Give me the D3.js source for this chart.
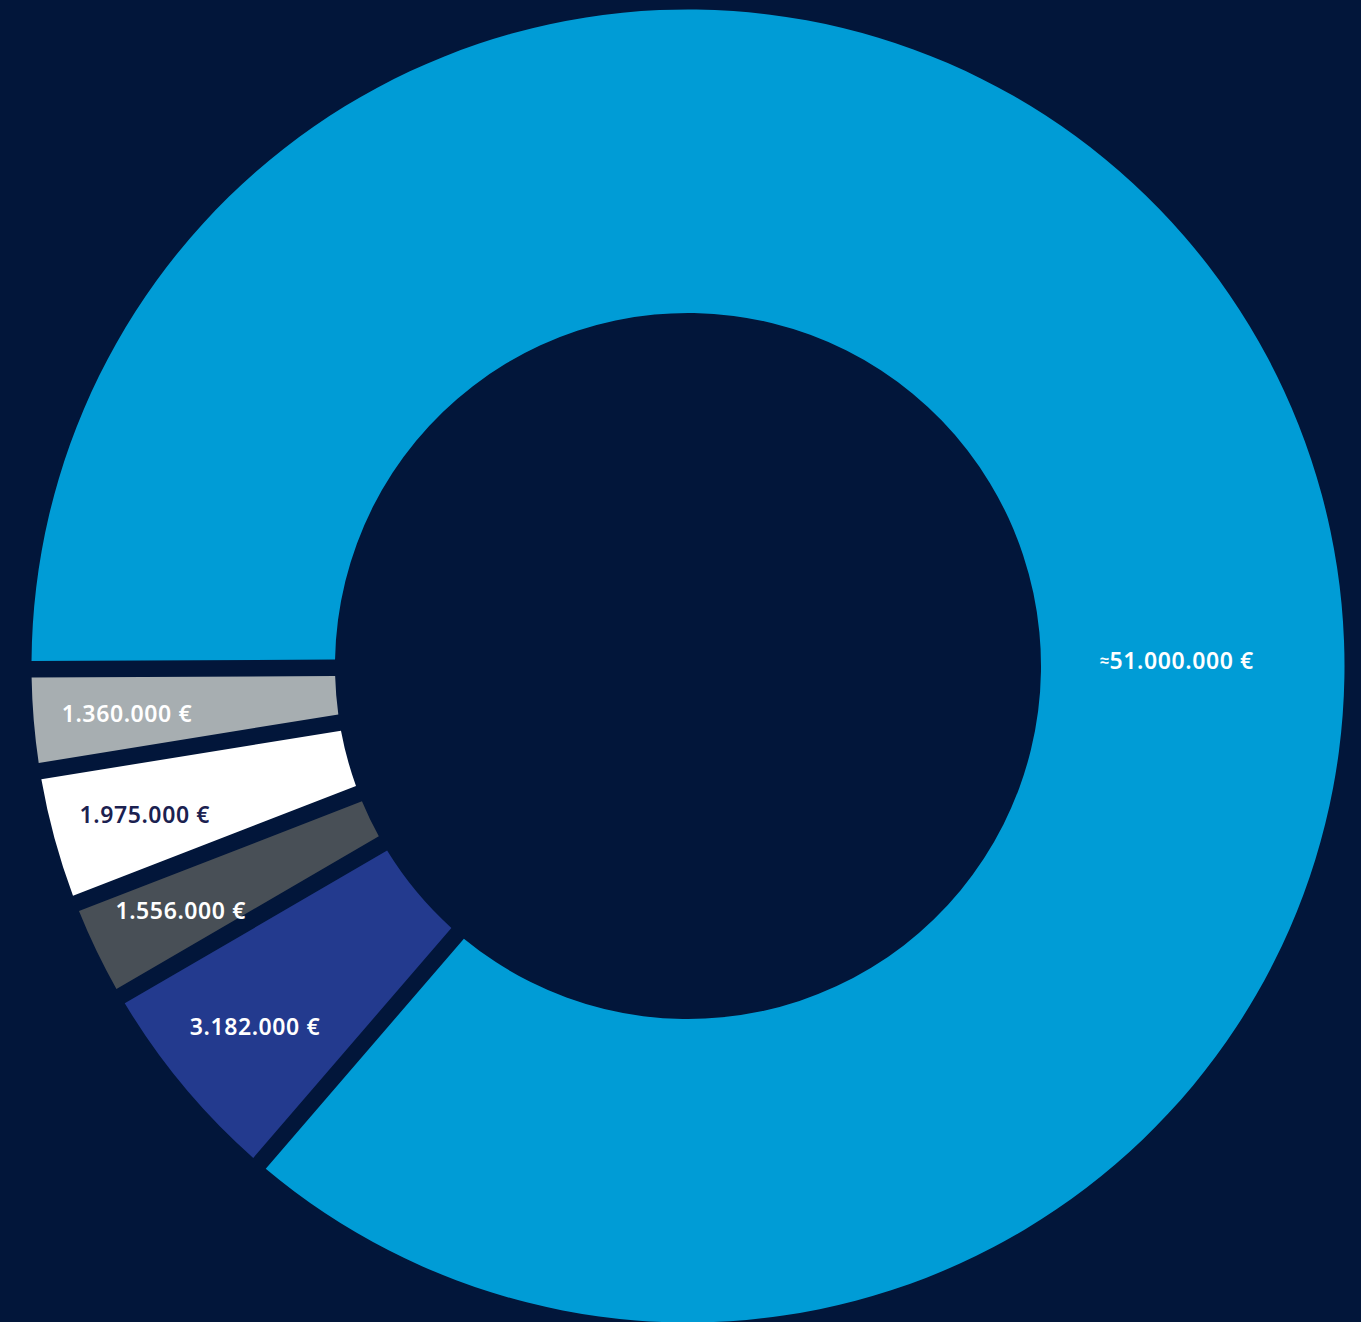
<!DOCTYPE html>
<html lang="en">
<head>
    <meta charset="UTF-8">
    <title>Donut</title>
    <script src="https://d3js.org/d3.v7.min.js"></script>
    <style>
        body { margin: 0; background: #02163a; }
        svg { display: block; }
        .label { font-family: "Noto Sans", sans-serif; font-weight: 600; font-size: 23px; letter-spacing: 0.6px; }
    </style>
</head>
<body>
<svg id="chart" width="1361" height="1322"></svg>
<script>
// data, in clockwise order starting from 9 o'clock
const labels = ["≈51.000.000 €", "3.182.000 €", "1.556.000 €", "1.975.000 €", "1.360.000 €"];
const values = [51.9, 3.18, 1.50, 2.00, 1.49];
const colors = ["#009cd6", "#233a8e", "#484f56", "#ffffff", "#a7aeb1"];
const textColors = ["#ffffff", "#ffffff", "#ffffff", "#1b2150", "#ffffff"];

const width = 1361, height = 1322;
const cx = 688, cy = 666;
const outerR = 656.5, innerR = 353;
const start = -Math.PI / 2 - 0.005;

const svg = d3.select("#chart");
const g = svg.append("g").attr("transform", `translate(${cx},${cy})`);

const data = values.map((v, i) => ({ label: labels[i], value: v, color: colors[i], text: textColors[i] }));

// angles stay proportional to the values, gaps are cut out by the arc
const pie = d3.pie()
    .sort(null)
    .value(d => d.value)
    .startAngle(start)
    .endAngle(start + Math.PI * 2);

const arc = d3.arc()
    .innerRadius(innerR)
    .outerRadius(outerR)
    .padAngle(0.033)
    .padRadius(500);

const arcs = pie(data);

g.selectAll("path")
    .data(arcs)
    .enter()
    .append("path")
    .attr("d", arc)
    .attr("fill", d => d.data.color);

// label positions: small slices sit on a ring near the outer edge,
// the big one sits at 3 o'clock
const labelArc = d3.arc().innerRadius(563).outerRadius(563);
const bigLabelR = 489;

const txt = g.selectAll("text")
    .data(arcs)
    .enter()
    .append("text")
    .attr("class", "label")
    .attr("text-anchor", "middle")
    .attr("dominant-baseline", "central")
    .attr("fill", d => d.data.text)
    .attr("transform", (d, i) => {
        if (i === 0) return `translate(${bigLabelR},-6)`;
        const c = labelArc.centroid(d);
        return `translate(${c[0]},${c[1]})`;
    });

txt.each(function(d) {
    const t = d3.select(this);
    const s = d.data.label;
    if (s.startsWith("≈")) {
        t.append("tspan").attr("font-size", "16px").text("≈");
        t.append("tspan").text(s.slice(1));
    } else {
        t.text(s);
    }
});
</script>
</body>
</html>
